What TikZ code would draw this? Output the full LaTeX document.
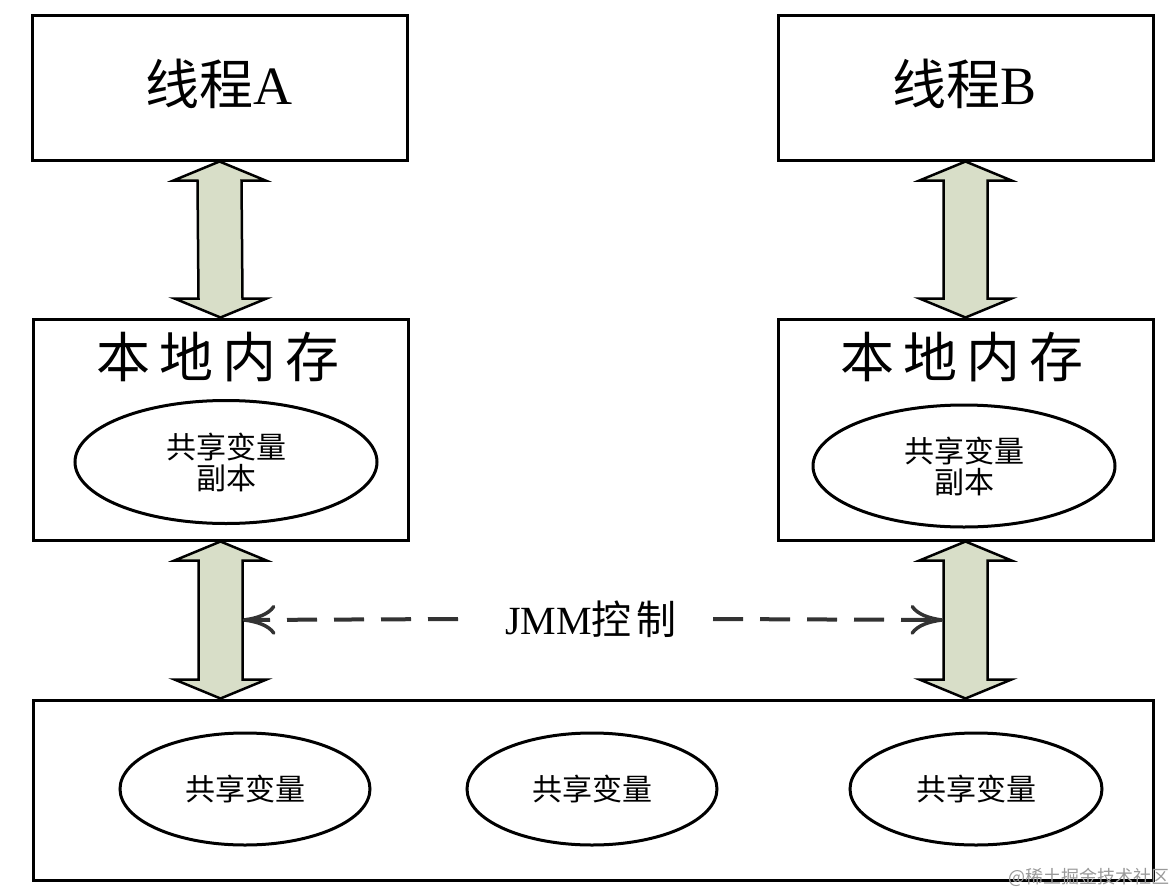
\documentclass[tikz,border=0pt]{standalone}
\usepackage{fontspec}
\setmainfont{Liberation Serif}
\newfontfamily\cjk{Noto Sans CJK SC}
\usetikzlibrary{arrows.meta,shapes.geometric,calc}
\definecolor{arrowfill}{RGB}{216,222,200}
\newcommand\fatarrow[2]{%
  \draw[dbl] (#1) -- ($(#1)+(46,19)$) -- ($(#1)+(22,19)$) -- ($(#2)+(22,-19)$)
    -- ($(#2)+(46,-19)$) -- (#2) -- ($(#2)+(-46,-19)$) -- ($(#2)+(-22,-19)$)
    -- ($(#1)+(-22,19)$) -- ($(#1)+(-46,19)$) -- cycle;}
\begin{document}
\begin{tikzpicture}[x=1pt,y=-1pt,
  box/.style={draw=black, line width=3pt, rectangle, inner sep=0pt},
  oval/.style={draw=black, line width=3pt, ellipse, inner sep=0pt, align=center,
     font=\cjk\fontsize{30}{31}\selectfont},
  bigtext/.style={inner sep=0pt, font=\fontsize{54}{60}\selectfont},
  dbl/.style={draw=black, line width=2.5pt, fill=arrowfill, line join=miter},
  ctrl/.style={draw=black!80, line width=4pt, dash pattern=on 30pt off 17pt,
     -{Computer Modern Rightarrow[length=33pt,width=30pt,line width=3.5pt]}},
]
\useasboundingbox (0,0) rectangle (1176,894);
% top thread boxes
\node[box, minimum width=375, minimum height=145] (ta) at (219.5,87.5) {};
\node[box, minimum width=375, minimum height=145] (tb) at (965.5,87.5) {};
\node[bigtext] (tat) at (219,84) {{\cjk 线程}A};
\node[bigtext] (tbt) at (965,84) {{\cjk 线程}B};
% local memory boxes
\node[box, minimum width=375, minimum height=221] (la) at (220.5,429.5) {};
\node[box, minimum width=375, minimum height=221] (lb) at (965.5,429.5) {};
\node[bigtext, font=\cjk\fontsize{54}{60}\selectfont] (lat) at (218,357) {本\hspace{9pt}地\hspace{9pt}内\hspace{9pt}存};
\node[bigtext, font=\cjk\fontsize{54}{60}\selectfont] (lbt) at (962,357) {本\hspace{9pt}地\hspace{9pt}内\hspace{9pt}存};
\node[oval, minimum width=302, minimum height=123] (ea) at (226,462) {共享变量\\副本};
\node[oval, minimum width=302, minimum height=122] (eb) at (964,466) {共享变量\\副本};
% main memory
\node[box, minimum width=1120, minimum height=180] (mm) at (593,790) {};
\node[oval, minimum width=250, minimum height=112] (m1) at (245,789) {共享变量};
\node[oval, minimum width=250, minimum height=112] (m2) at (592,789) {共享变量};
\node[oval, minimum width=252, minimum height=112] (m3) at (976,789) {共享变量};
% fat double arrows
\coordinate (a1t) at (ta.south); \coordinate (a1b) at (la.north);
\coordinate (a2t) at (la.south); \coordinate (a2b) at (mm.north -| la.south);
\coordinate (b1t) at (tb.south); \coordinate (b1b) at (lb.north);
\coordinate (b2t) at (lb.south); \coordinate (b2b) at (mm.north -| lb.south);
\fatarrow{a1t}{a1b}
\fatarrow{a2t}{a2b}
\fatarrow{b1t}{b1b}
\fatarrow{b2t}{b2b}
% JMM control
\node[inner sep=0pt, font=\fontsize{40}{44}\selectfont] (jmm) at (591,619) {JMM{\cjk 控\hspace{5pt}制}};
\coordinate (dL) at (458,619);
\coordinate (dR) at (713,619);
\coordinate (shaftA) at ($(a2t)!0.5!(a2b)+(22,0)$);
\coordinate (shaftB) at ($(b2t)!0.5!(b2b)+(-22,0)$);
\draw[ctrl] (dL) -- (shaftA);
\draw[ctrl] (dR) -- (shaftB);
% watermark
\node[inner sep=0pt, anchor=east, text=black!40, font=\cjk\fontsize{18}{18}\selectfont] (wm) at (1170,877) {@稀土掘金技术社区};
\end{tikzpicture}
\end{document}
